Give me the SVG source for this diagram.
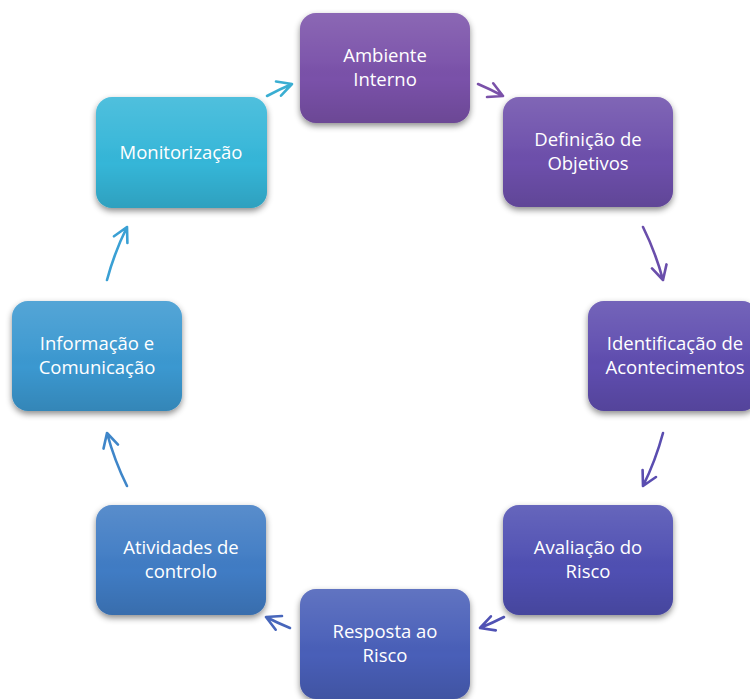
<svg xmlns="http://www.w3.org/2000/svg" width="750" height="699" viewBox="0 0 750 699">
<defs>
<filter id="sh" x="-20%" y="-20%" width="140%" height="150%">
<feDropShadow dx="0" dy="3" stdDeviation="3" flood-color="#000" flood-opacity="0.45"/>
</filter>
<linearGradient id="gl" x1="0" y1="0" x2="0" y2="1">
<stop offset="0" stop-color="#fff" stop-opacity="0.13"/>
<stop offset="0.45" stop-color="#fff" stop-opacity="0.03"/>
<stop offset="0.6" stop-color="#000" stop-opacity="0"/>
<stop offset="1" stop-color="#000" stop-opacity="0.12"/>
</linearGradient>
</defs>
<style>
.box{filter:url(#sh);}
.gl{fill:url(#gl);}
.t{font-family:"Open Sans","Liberation Sans",Arial,sans-serif;font-size:18.5px;fill:#fff;text-anchor:middle;}
.a{fill:none;stroke-width:2.6;stroke-linecap:round;stroke-linejoin:round;}
</style>
<rect width="750" height="699" fill="#fff"/>
<g id="connectors">
<path class="a" stroke="#3aaed2" d="M267,96 A287,287 0 0 1 292,84 M276,81.5 L292,84 L281,95.7"/>
<path class="a" stroke="#7a51a9" d="M478,84 A287,287 0 0 1 503,96 M493.2,83.3 L503,96 L487,97"/>
<path class="a" stroke="#6a4eab" d="M643,227 A287,287 0 0 1 663,280 M666.5,264.4 L663,280 L652,268.4"/>
<path class="a" stroke="#5a4db0" d="M663,433 A287,287 0 0 1 643,486 M656,477 L643,486 L642.6,470"/>
<path class="a" stroke="#5052b4" d="M504,617 A287,287 0 0 1 480,628 M495.8,630.4 L480,628 L490.9,616.3"/>
<path class="a" stroke="#4766bb" d="M290,628 A287,287 0 0 1 266,617 M275.7,629.7 L266,617 L282,616"/>
<path class="a" stroke="#3f86c9" d="M127,486 A287,287 0 0 1 107,433 M103.5,448.6 L107,433 L118,444.6"/>
<path class="a" stroke="#3aa0d4" d="M107,280 A287,287 0 0 1 127,227 M114,236.3 L127,227 L127.4,243"/>
</g>
<g id="n1">
<rect class="box" x="300" y="13" width="170" height="110" rx="16" fill="#7a51a9"/>
<rect class="gl" x="300" y="13" width="170" height="110" rx="16"/>
<text class="t" x="385" y="62">Ambiente</text><text class="t" x="385" y="86">Interno</text>
</g>
<g id="n2">
<rect class="box" x="503" y="97" width="170" height="110" rx="16" fill="#6d4fab"/>
<rect class="gl" x="503" y="97" width="170" height="110" rx="16"/>
<text class="t" x="588" y="146">Definição de</text><text class="t" x="588" y="170">Objetivos</text>
</g>
<g id="n3">
<rect class="box" x="588" y="301" width="170" height="110" rx="16" fill="#5e4daf"/>
<rect class="gl" x="588" y="301" width="170" height="110" rx="16"/>
<text class="t" x="675" y="350">Identificação de</text><text class="t" x="675" y="374">Acontecimentos</text>
</g>
<g id="n4">
<rect class="box" x="503" y="505" width="170" height="110" rx="16" fill="#5050b2"/>
<rect class="gl" x="503" y="505" width="170" height="110" rx="16"/>
<text class="t" x="588" y="554">Avaliação do</text><text class="t" x="588" y="578">Risco</text>
</g>
<g id="n5">
<rect class="box" x="300" y="589" width="170" height="110" rx="16" fill="#4a5fb8"/>
<rect class="gl" x="300" y="589" width="170" height="110" rx="16"/>
<text class="t" x="385" y="638">Resposta ao</text><text class="t" x="385" y="662">Risco</text>
</g>
<g id="n6">
<rect class="box" x="96" y="505" width="170" height="110" rx="16" fill="#407cc4"/>
<rect class="gl" x="96" y="505" width="170" height="110" rx="16"/>
<text class="t" x="181" y="554">Atividades de</text><text class="t" x="181" y="578">controlo</text>
</g>
<g id="n7">
<rect class="box" x="12" y="301" width="170" height="110" rx="16" fill="#3b98d0"/>
<rect class="gl" x="12" y="301" width="170" height="110" rx="16"/>
<text class="t" x="97" y="350">Informação e</text><text class="t" x="97" y="374">Comunicação</text>
</g>
<g id="n8">
<rect class="box" x="96" y="97" width="171" height="111" rx="16" fill="#35b6d8"/>
<rect class="gl" x="96" y="97" width="171" height="111" rx="16"/>
<text class="t" x="181" y="159">Monitorização</text>
</g>
</svg>
